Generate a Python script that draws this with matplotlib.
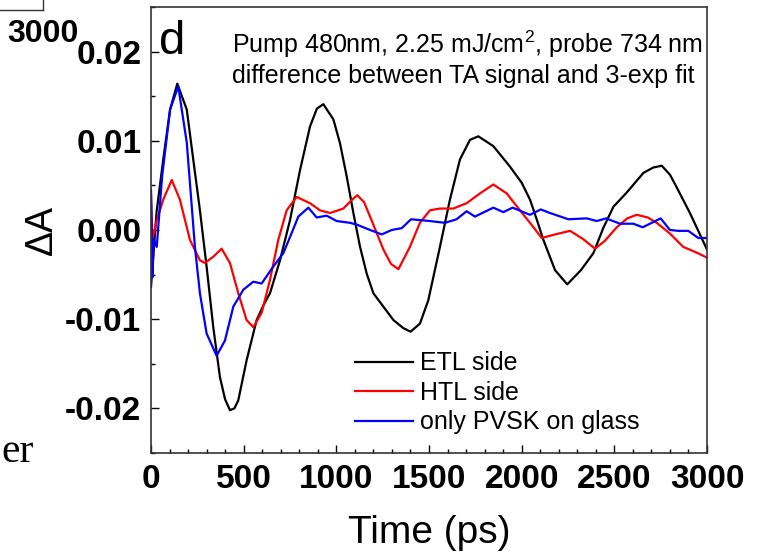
import matplotlib

matplotlib.use("Agg")
import matplotlib.pyplot as plt
from matplotlib.lines import Line2D

plt.rcParams["font.family"] = ["Liberation Sans", "DejaVu Sans"]
plt.rcParams["axes.unicode_minus"] = False
plt.rcParams["mathtext.fontset"] = "custom"
plt.rcParams["mathtext.rm"] = "Liberation Sans"

# ETL side (black)
etl_t = [0, 5, 30, 66, 103, 142, 193, 228, 264, 300, 336, 372, 400, 426, 450, 471, 516,
         570, 610, 642, 696, 750, 804, 858, 895, 930, 984, 1020, 1056, 1092, 1128, 1164,
         1200, 1254, 1308, 1361, 1401, 1451, 1496, 1559, 1613, 1667, 1721, 1766,
         1847, 1937, 2000, 2045, 2081, 2117, 2180, 2246, 2320, 2387, 2440, 2495, 2567,
         2657, 2710, 2756, 2800, 2836, 2908, 3000]
etl_y = [-0.0064, -0.0050, 0.0020, 0.0079, 0.0135, 0.0164, 0.0135, 0.0079, 0.0022, -0.0041,
         -0.0109, -0.0165, -0.0190, -0.0202, -0.0200, -0.0191, -0.0146,
         -0.0101, -0.0083, -0.0071, -0.0034, 0.0011, 0.0067, 0.0116, 0.0136, 0.0141, 0.0124,
         0.0097, 0.0060, 0.0019, -0.0019, -0.0049,
         -0.0071, -0.0086, -0.0101, -0.0110, -0.0114, -0.0105, -0.0079, -0.0019,
         0.0034, 0.0079, 0.0101, 0.0105,
         0.0094, 0.0071, 0.0053, 0.0034, 0.0012, -0.0011, -0.0045, -0.0061, -0.0045, -0.0026,
         0.0002, 0.0026, 0.0042,
         0.0064, 0.0070, 0.0072, 0.0062, 0.0048, 0.0019, -0.0022]

# HTL side (red)
htl_t = [0, 8, 30, 66, 112, 156, 210, 264, 291, 336, 381, 426, 471, 516, 552, 597, 642,
         687, 732, 786, 858, 912, 966, 1038, 1080, 1113, 1150, 1182, 1254, 1295, 1335,
         1397, 1451, 1505, 1559, 1631, 1703, 1775, 1847, 1919, 1991, 2045, 2108, 2180,
         2261, 2330, 2396, 2450, 2513, 2570, 2621, 2680, 2729, 2800, 2872, 2940, 3000]
htl_y = [0.0040, -0.0011, 0.0010, 0.0034, 0.0056, 0.0034, -0.0011, -0.0034, -0.0037, -0.0030,
         -0.0021, -0.0037, -0.0071, -0.0101, -0.0109, -0.0093, -0.0056,
         -0.0011, 0.0022, 0.0037, 0.0030, 0.0022, 0.0019, 0.0024, 0.0033, 0.0039, 0.0031,
         0.0015, -0.0022, -0.0038, -0.0044,
         -0.0019, 0.0008, 0.0022, 0.0024, 0.0024, 0.0030, 0.0041, 0.0051, 0.0041, 0.0022,
         0.0008, -0.0009, -0.0005,
         -0.0001, -0.0010, -0.0021, -0.0012, 0.0003, 0.0013, 0.0017, 0.0014, 0.0008, -0.0004,
         -0.0019, -0.0025, -0.0031]

# only PVSK on glass (blue)
pvsk_t = [0, 8, 15, 31, 60, 103, 147, 193, 237, 264, 300, 354, 399, 444, 498, 552, 597,
          660, 714, 750, 795, 849, 894, 948, 1002, 1074, 1110, 1182, 1245, 1299, 1353,
          1403, 1505, 1586, 1649, 1703, 1748, 1847, 1901, 1951, 2045, 2103, 2153, 2252,
          2351, 2405, 2455, 2531, 2603, 2653, 2750, 2800, 2845, 2899, 2953, 3000]
pvsk_y = [0.0045, -0.0053, -0.0010, -0.0019, 0.0060, 0.0135, 0.0161, 0.0098, -0.0019,
          -0.0071, -0.0116, -0.0141, -0.0124, -0.0086, -0.0067, -0.0058, -0.0060,
          -0.0041, -0.0026, -0.0008, 0.0015, 0.0025, 0.0014, 0.0016, 0.0010, 0.0008, 0.0006,
          0.0000, -0.0005, 0.0000, 0.0002,
          0.0012, 0.0010, 0.0008, 0.0012, 0.0021, 0.0015, 0.0025, 0.0020, 0.0025, 0.0017,
          0.0023, 0.0019, 0.0012,
          0.0013, 0.0010, 0.0013, 0.0007, 0.0007, 0.0003, 0.0013, 0.0000, -0.0001, -0.0001,
          -0.0009, -0.0009]

series = [
    (etl_t, etl_y, "black", "ETL side"),
    (htl_t, htl_y, "#ff0000", "HTL side"),
    (pvsk_t, pvsk_y, "#0000ff", "only PVSK on glass"),
]

fig = plt.figure(figsize=(7.63, 5.56), dpi=100)
ax = fig.add_axes([0.1979, 0.1853, 0.7287, 0.8022])

for t, y, color, label in series:
    ax.plot(t, y, color=color, lw=1.6, label=label, solid_joinstyle="round")

ax.set_xlim(0, 3000)
ax.set_ylim(-0.025, 0.025)
ax.set_xticks([0, 500, 1000, 1500, 2000, 2500, 3000])
ax.set_xticks(range(0, 3001, 100), minor=True)
ax.set_yticks([-0.02, -0.01, 0.0, 0.01, 0.02])
ax.set_yticks([-0.025, -0.015, -0.005, 0.005, 0.015, 0.025], minor=True)
ax.set_yticklabels(["-0.02", "-0.01", "0.00", "0.01", "0.02"])
ax.tick_params(which="both", direction="in", width=1.0)
ax.tick_params(which="major", length=6, labelsize=24)
ax.tick_params(axis="x", which="major", pad=8)
ax.tick_params(axis="y", which="major", pad=7)
ax.tick_params(which="minor", length=3)
for lab in ax.get_xticklabels() + ax.get_yticklabels():
    lab.set_fontweight("bold")
for sp in ax.spines.values():
    sp.set_linewidth(1.2)
    sp.set_color("#333333")

ax.set_xlabel("Time (ps)", fontsize=28, labelpad=14)
ax.set_ylabel("ΔA", fontsize=27, labelpad=4)

ax.text(0.015, 0.895, "d", transform=ax.transAxes, fontsize=34, va="baseline")
ax.text(0.146, 0.897, "Pump 480nm, 2.25 mJ/cm$^2$, probe 734 nm", transform=ax.transAxes,
        fontsize=18, va="baseline")
ax.text(0.146, 0.830, "difference between TA signal and 3-exp fit", transform=ax.transAxes,
        fontsize=18, va="baseline")

ax.legend(loc="upper left", bbox_to_anchor=(0.367, 0.228), frameon=False, fontsize=18,
          handlelength=2.3, handletextpad=0.3, labelspacing=0.22, borderpad=0,
          borderaxespad=0)

# fragments of neighbouring panels
fig.text(0.01, 0.925, "3000", fontsize=23, fontweight="bold", va="baseline")
fig.text(0.002, 0.169, "er", fontsize=30, family="Liberation Serif", va="baseline")
fig.add_artist(Line2D([0, 0.057], [0.982, 0.982], transform=fig.transFigure, color="#333333", lw=1))
fig.add_artist(Line2D([0.057, 0.057], [0.982, 1.0], transform=fig.transFigure, color="#333333", lw=1))

fig.savefig("out.png", dpi=100)
